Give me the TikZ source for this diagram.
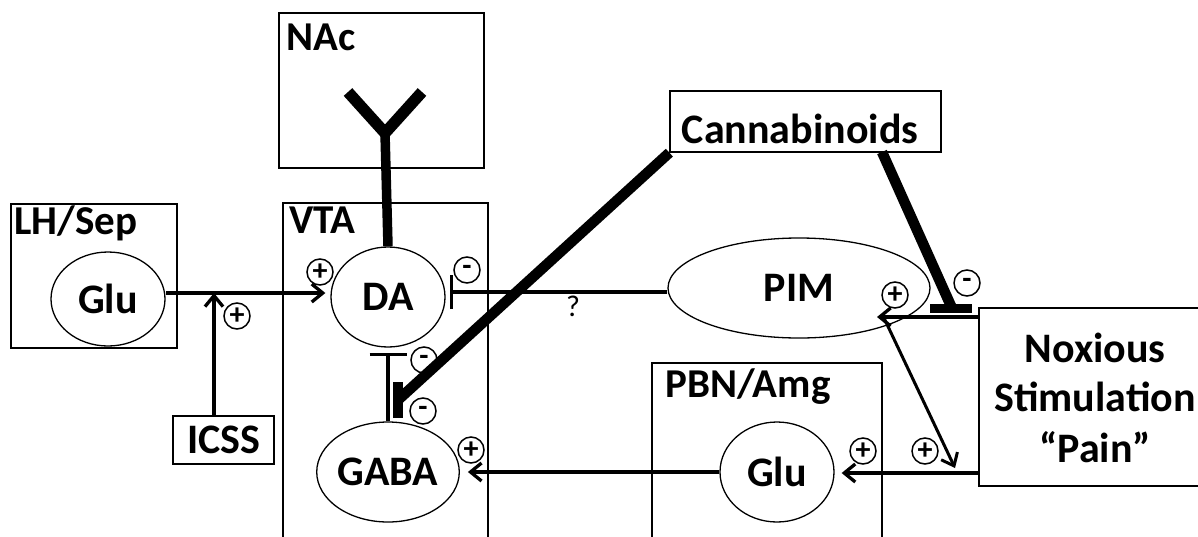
\documentclass[tikz,border=0pt]{standalone}
\usepackage{fontspec}
\setmainfont{Carlito}
\usetikzlibrary{arrows.meta,shapes.geometric,calc}
\begin{document}
\begin{tikzpicture}[x=1pt,y=-1pt,
  box/.style={draw, line width=1.3pt, inner sep=0pt},
  ell/.style={draw, ellipse, line width=1.3pt, inner sep=0pt, font=\bfseries\fontsize{42}{46}\selectfont},
  lab/.style={anchor=base west, inner sep=0pt, font=\bfseries\fontsize{41}{44}\selectfont},
  big/.style={anchor=base, inner sep=0pt, font=\bfseries\fontsize{42}{46}\selectfont},
  sgn/.style={draw, circle, line width=1.5pt, minimum size=26pt, inner sep=0pt, font=\bfseries\fontsize{30}{30}\selectfont},
  conn/.style={line width=3.3pt},
  arr/.style={line width=3.3pt, -{Straight Barb[length=11pt,width=18pt]}},
  fat/.style={line width=10.5pt},
]
\useasboundingbox (0,0) rectangle (1198,536);
\clip (0,0) rectangle (1198,536);

% boxes
\node[box, minimum width=205pt, minimum height=155pt] (NAc) at (381.5,90.5) {};
\node[box, minimum width=205pt, minimum height=342pt] (VTA) at (385.5,374) {};
\node[box, minimum width=166pt, minimum height=144pt] (LH) at (94,276) {};
\node[box, minimum width=101pt, minimum height=48pt] (ICSS) at (223.5,440) {};
\node[box, minimum width=271pt, minimum height=61pt] (Cann) at (805.5,121.5) {};
\node[box, minimum width=230pt, minimum height=182pt] (PBN) at (767,454) {};
\node[box, minimum width=240pt, minimum height=178pt] (Nox) at (1099,397) {};

% box labels
\node[lab] (tNAc) at (286,50) {NAc};
\node[lab] (tVTA) at (289,233) {VTA};
\node[lab] (tLH) at (14,234) {LH/Sep};
\node[lab] (tPBN) at (665,397) {PBN/Amg};
\node[big] (tCann) at (800,143) {Cannabinoids};
\node[big] (tICSS) at (224,453) {ICSS};
\node[big] (tNox1) at (1095,362) {Noxious};
\node[big] (tNox2) at (1095,411) {Stimulation};
\node[big] (tNox3) at (1095,462) {“Pain”};

% ellipses
\node[ell, minimum width=114pt, minimum height=94pt] (LHglu) at (108,299) {Glu};
\node[ell, minimum width=114pt, minimum height=100pt] (DA) at (388,297) {DA};
\node[ell, minimum width=114pt, minimum height=100pt] (GABA) at (388,472) {GABA};
\node[ell, minimum width=262pt, minimum height=100pt] (PIM) at (799,288) {PIM};
\node[ell, minimum width=114pt, minimum height=100pt] (PBNglu) at (777,472) {Glu};

% Y-shaped terminal in NAc
\coordinate (yl) at (348,92);
\coordinate (yr) at (422,92);
\coordinate (yj) at (385,133);
\draw[line width=11.5pt, line join=miter] (yl) -- (yj) -- (yr);
\draw[line width=9.5pt] (yj) -- (DA.north);

% LH Glu -> DA, ICSS
\coordinate (j1) at (214,293);
\draw[arr] (LHglu.east |- j1) -- ([xshift=-5pt]DA.west |- j1);
\draw[arr] (ICSS.north -| j1) -- (j1);

% PIM -| DA
\coordinate (q) at (450,292);
\draw[conn, -{Bar[width=34pt]}] (PIM.west |- q) -- (q);
\node[inner sep=0pt, font=\fontsize{30}{30}\selectfont] (qm) at (573,306) {?};

% DA -| GABA
\coordinate (q2) at (388,353);
\draw[conn, -{Bar[width=37pt]}] (GABA.north) -- (q2);

% Cannabinoids
\coordinate (cb1) at (398,400);
\draw[fat] (Cann.south west) -- (cb1);
\fill ($(cb1)+(-5,-18)$) rectangle ($(cb1)+(5,18)$);
\coordinate (cs2) at (882,152);
\coordinate (cb2) at (951,306);
\draw[fat] (cs2) -- (cb2);
\fill ($(cb2)+(-21,-2)$) rectangle ($(cb2)+(21,7)$);

% Noxious -> PIM, -> PBN Glu
\coordinate (p1) at (877,317);
\draw[arr] (Nox.west |- p1) -- (p1);
\coordinate (p2) at (884,318);
\coordinate (p3) at (955,468);
\draw[line width=3pt, -{Straight Barb[length=11pt,width=18pt]}] (p2) -- (p3);
\coordinate (p4) at (979,473);
\draw[arr] (Nox.west |- p4) -- ([xshift=7pt]PBNglu.east |- p4);
\draw[arr] (PBNglu.west) -- ([xshift=8pt]GABA.east);

% signs
\node[sgn] (s1) at (320,272) {+};
\node[sgn] (s2) at (467,270) {-};
\node[sgn] (s3) at (424,360) {-};
\node[sgn] (s4) at (423,411) {-};
\node[sgn] (s5) at (471,450) {+};
\node[sgn] (s6) at (237,316) {+};
\node[sgn] (s7) at (895,295) {+};
\node[sgn] (s8) at (967,283) {-};
\node[sgn] (s9) at (925,451) {+};
\node[sgn] (s10) at (863,451) {+};
\end{tikzpicture}
\end{document}
